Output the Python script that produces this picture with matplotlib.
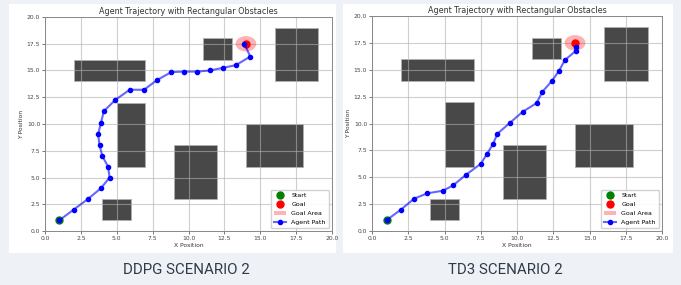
import matplotlib
matplotlib.use("Agg")
import matplotlib.pyplot as plt
from matplotlib.patches import Rectangle, Circle
from matplotlib.lines import Line2D
from matplotlib.patches import Patch

# Obstacles: (x, y, width, height)
obstacles = [
    (2, 14, 5, 2),
    (11, 16, 2, 2),
    (16, 14, 3, 5),
    (5, 6, 2, 6),
    (14, 6, 4, 4),
    (9, 3, 3, 5),
    (4, 1, 2, 2),
]
start = (1.0, 1.0)
goal = (14.0, 17.5)
goal_radius = 0.72

ddpg_x = [1.0, 2.0, 3.0, 3.9, 4.5, 4.4, 4.0, 3.8, 3.7, 3.9, 4.1, 4.9, 5.9, 6.9,
          7.8, 8.8, 9.7, 10.6, 11.5, 12.4, 13.3, 14.3, 13.9]
ddpg_y = [1.0, 2.0, 3.0, 4.0, 5.0, 6.0, 7.0, 8.0, 9.05, 10.1, 11.2, 12.25, 13.2, 13.2,
          14.1, 14.85, 14.9, 14.9, 15.0, 15.25, 15.5, 16.3, 17.5]

td3_x = [1.0, 2.0, 2.9, 3.8, 4.9, 5.6, 6.5, 7.5, 7.95, 8.35, 8.65, 9.5, 10.4, 11.35,
         11.75, 12.4, 12.9, 13.3, 14.05, 14.05]
td3_y = [1.0, 2.0, 3.0, 3.5, 3.75, 4.25, 5.25, 6.25, 7.2, 8.1, 9.05, 10.05, 11.1, 11.9,
         12.95, 13.95, 14.9, 15.9, 16.75, 17.1]

captions = ["DDPG SCENARIO 2", "TD3 SCENARIO 2"]
ticks = [0, 2.5, 5, 7.5, 10, 12.5, 15, 17.5, 20]

W, H = 681, 285
fig = plt.figure(figsize=(W / 100, H / 100), dpi=100)
fig.patch.set_facecolor("#eef1f5")

# white panels
for (x0, x1) in [(9, 336), (343, 673)]:
    fig.add_artist(Rectangle((x0 / W, 1 - 253 / H), (x1 - x0) / W, (253 - 4) / H,
                             transform=fig.transFigure, facecolor="white",
                             edgecolor="none", zorder=0))

axes_px = [(45, 332, 17, 231), (372, 662, 16, 231)]
paths = [(ddpg_x, ddpg_y), (td3_x, td3_y)]
cap_x = [186, 505]

for (l, r, t, b), (px, py), cap, cx in zip(axes_px, paths, captions, cap_x):
    ax = fig.add_axes([l / W, 1 - b / H, (r - l) / W, (b - t) / H])
    for (ox, oy, ow, oh) in obstacles:
        ax.add_patch(Rectangle((ox, oy), ow, oh, facecolor="#484848",
                               edgecolor="#b0b0b0", lw=0.6, zorder=1))
    ax.add_patch(Circle(goal, goal_radius, facecolor="red", alpha=0.3,
                        edgecolor="none", zorder=2))
    ax.plot([start[0]], [start[1]], "o", color="green", ms=5, zorder=3)
    ax.plot([goal[0]], [goal[1]], "o", color="red", ms=5, zorder=3)
    ax.plot(px, py, "-", color=(0, 0, 1, 0.6), lw=1.5, marker="o", ms=3,
            markerfacecolor="blue", markeredgecolor="blue", zorder=4)
    ax.set_xlim(0, 20)
    ax.set_ylim(0, 20)
    ax.set_xticks(ticks)
    ax.set_yticks(ticks)
    ax.set_xticklabels([f"{v:.1f}" for v in ticks])
    ax.set_yticklabels([f"{v:.1f}" for v in ticks])
    ax.tick_params(labelsize=4.3, length=2, width=0.5, pad=1.5, colors="#444444")
    ax.grid(True, color="#b0b0b0", alpha=0.6, lw=0.8)
    for s in ax.spines.values():
        s.set_color("#888888")
        s.set_linewidth(0.7)
    ax.set_title("Agent Trajectory with Rectangular Obstacles", fontsize=5.8,
                 pad=2, color="#333333")
    ax.set_xlabel("X Position", fontsize=4.3, labelpad=1.5, color="#333333")
    ax.set_ylabel("Y Position", fontsize=4.3, labelpad=2, color="#333333")
    handles = [
        Line2D([], [], ls="none", marker="o", color="green", ms=5),
        Line2D([], [], ls="none", marker="o", color="red", ms=5),
        Patch(facecolor="red", alpha=0.3),
        Line2D([], [], color=(0, 0, 1, 0.6), lw=1.5, marker="o", ms=3,
               markerfacecolor="blue", markeredgecolor="blue"),
    ]
    ax.legend(handles, ["Start", "Goal", "Goal Area", "Agent Path"],
              loc="lower right", fontsize=4.5, handlelength=2.0,
              borderpad=0.5, labelspacing=0.55, framealpha=0.9,
              edgecolor="#cccccc", fancybox=True)
    fig.text(cx / W, 1 - 270 / H, cap, ha="center", va="center",
             fontsize=10.8, color="#2f3a4a",
             family=["Liberation Sans Narrow", "Roboto", "DejaVu Sans"])

fig.savefig("out.png", dpi=100, facecolor=fig.get_facecolor())
